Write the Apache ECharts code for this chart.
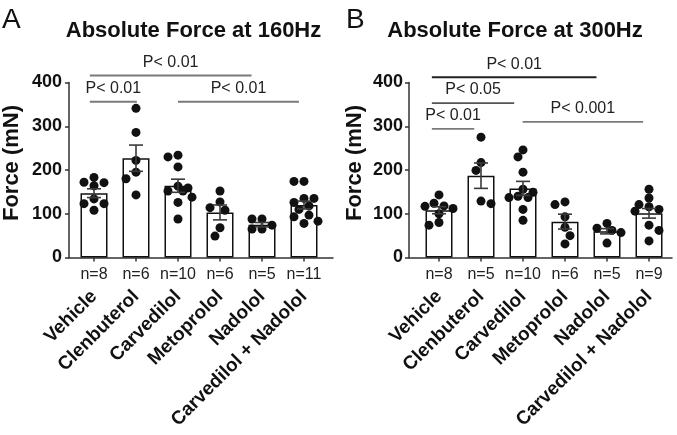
<!DOCTYPE html>
<html><head><meta charset="utf-8">
<script src="https://cdn.jsdelivr.net/npm/echarts@6/dist/echarts.min.js"></script>
<style>html,body{margin:0;padding:0;background:#fff}#c{width:677px;height:435px}</style>
</head><body><div id="c"></div>
<script>
// ---------------- DATA ----------------
const categories = ['Vehicle','Clenbuterol','Carvedilol','Metoprolol','Nadolol','Carvedilol + Nadolol'];
const yMin = 0, yMax = 400, yStep = 100;
const yName = 'Force (mN)';

// Panel A : 160 Hz
const titleA = 'Absolute Force at 160Hz';
const nLabelsA = ['n=8','n=6','n=10','n=6','n=5','n=11'];
const meanA = [147, 227, 164, 103, 75, 120];
const semA  = [10, 30, 15, 17, 5, 9];
const vehicleA    = [183,172,171,164,134,123,123,108];
const clenA       = [341,286,222,195,180,143];
const carvA       = [234,230,207,163,159,152,152,138,126,88];
const metoA       = [152,127,114,108,68,49];
const nadoA       = [88,88,74,65,65];
const carvNadoA   = [174,174,135,135,126,118,110,97,93,83,78];
const sigLabelA = ['P< 0.01','P< 0.01','P< 0.01'];
const sigFromA  = [-0.1, -0.1, 2.0];
const sigToA    = [3.75, 1.02, 4.88];
const sigLevelA = [416, 356, 356];

// Panel B : 300 Hz
const titleB = 'Absolute Force at 300Hz';
const nLabelsB = ['n=8','n=5','n=10','n=6','n=5','n=9'];
const meanB = [108, 187, 158, 82, 60, 101];
const semB  = [8, 29, 16, 17, 6, 11];
const vehicleB    = [143,124,118,117,112,100,80,74];
const clenB       = [275,217,199,129,123];
const carvB       = [246,230,195,156,149,140,137,137,110,85];
const metoB       = [127,121,93,69,50,31];
const nadoB       = [78,67,62,57,33];
const carvNadoB   = [156,136,121,116,110,106,74,62,38];
const sigLabelB = ['P< 0.01','P< 0.05','P< 0.01','P< 0.001'];
const sigFromB  = [-0.17, -0.17, -0.17, 1.99];
const sigToB    = [3.75, 1.79, 0.84, 4.86];
const sigLevelB = [412, 353, 294, 310];

// ---------------- LAYOUT / STYLE ----------------
const FONT = 'Liberation Sans, Arial, Helvetica, sans-serif';
const plotTop = 82.5, plotH = 175;
const catW = 42;
const panels = [
  {letter:'A', letterX:2, title:titleA, titleX:193.5, lineLeft:68, lineW:265, plotLeft:73, nameGap:46, labelMargin:7,
   nLabels:nLabelsA, mean:meanA, sem:semA, groups:[vehicleA,clenA,carvA,metoA,nadoA,carvNadoA],
   sig:{lab:sigLabelA, from:sigFromA, to:sigToA, lev:sigLevelA}, sigColor:['#7a7a7a','#7a7a7a','#7a7a7a']},
  {letter:'B', letterX:346, title:titleB, titleX:515, lineLeft:409, lineW:263, plotLeft:418, nameGap:43, labelMargin:6,
   nLabels:nLabelsB, mean:meanB, sem:semB, groups:[vehicleB,clenB,carvB,metoB,nadoB,carvNadoB],
   sig:{lab:sigLabelB, from:sigFromB, to:sigToB, lev:sigLevelB}, sigColor:['#222','#555','#7a7a7a','#7a7a7a']}
];

const yPxPerUnit = plotH / (yMax - yMin);
// compact beeswarm layout (offsets computed, limited to bar width)
function swarm(vals, idx) {
  const t = 8.5;
  const steps = [5, 10, 14];
  const placed = [];
  const out = [];
  vals.slice().sort((a,b)=>b-a).forEach(v => {
    const y = v * yPxPerUnit;
    let l = 0, r = 0;
    placed.forEach(p => { if (p.x < -0.1) l++; else if (p.x > 0.1) r++; });
    const cands = [0];
    steps.forEach(s => { if (l <= r) cands.push(-s, s); else cands.push(s, -s); });
    let chosen = null, best = -1, bestC = 0;
    for (const c of cands) {
      const md = placed.reduce((m, p) => Math.min(m, Math.hypot(p.x - c, p.y - y)), 1e9);
      if (md >= t) { chosen = c; break; }
      if (md > best) { best = md; bestC = c; }
    }
    if (chosen === null) chosen = bestC;
    placed.push({x: chosen, y});
    out.push([idx + chosen / catW, v]);
  });
  return out;
}

const option = {
  animation: false,
  backgroundColor: '#fff',
  textStyle: {fontFamily: FONT},
  title: [], grid: [], xAxis: [], yAxis: [], series: []
};

panels.forEach((p, pi) => {
  option.title.push({text: p.letter, left: p.letterX, top: 6, padding: 0,
    textStyle: {fontFamily: FONT, fontSize: 28, fontWeight: 'normal', color: '#111'}});
  option.title.push({text: p.title, left: p.titleX, top: 20, padding: 0, textAlign: 'center',
    textStyle: {fontFamily: FONT, fontSize: 22, fontWeight: 'bold', color: '#111'}});

  const gL = option.grid.length;
  option.grid.push({left: p.lineLeft, top: plotTop, width: p.lineW, height: plotH, containLabel: false});
  const gP = option.grid.length;
  option.grid.push({left: p.plotLeft, top: plotTop, width: catW * categories.length, height: plotH, containLabel: false});

  option.xAxis.push({type: 'value', gridIndex: gL, min: 0, max: 1,
    axisLine: {show: true, lineStyle: {color: '#333', width: 1.5}},
    axisTick: {show: false}, axisLabel: {show: false}, splitLine: {show: false}});
  option.yAxis.push({type: 'value', gridIndex: gL, min: yMin, max: yMax, interval: yStep,
    name: yName, nameLocation: 'middle', nameGap: p.nameGap,
    nameTextStyle: {fontFamily: FONT, fontSize: 22, fontWeight: 'bold', color: '#111', padding: [0,0,0,14]},
    axisLine: {show: true, lineStyle: {color: '#333', width: 1.5}},
    axisTick: {show: true, inside: false, length: 4, lineStyle: {color: '#333', width: 1.5}},
    axisLabel: {fontFamily: FONT, fontSize: 18, fontWeight: 'bold', color: '#111', margin: p.labelMargin},
    splitLine: {show: false}});

  const xN = option.xAxis.length;
  option.xAxis.push({type: 'category', gridIndex: gP, data: p.nLabels, position: 'bottom',
    axisLine: {show: false},
    axisTick: {show: true, alignWithLabel: true, length: 4, lineStyle: {color: '#333', width: 1.5}},
    axisLabel: {fontFamily: FONT, fontSize: 16, color: '#222', margin: 9, interval: 0},
    splitLine: {show: false}});
  option.xAxis.push({type: 'category', gridIndex: gP, data: categories, position: 'bottom',
    axisLine: {show: false}, axisTick: {show: false},
    axisLabel: {fontFamily: FONT, fontSize: 19, fontWeight: 'bold', color: '#111', rotate: 45, margin: 36, interval: 0},
    splitLine: {show: false}});
  const xV = option.xAxis.length;
  option.xAxis.push({type: 'value', gridIndex: gP, min: -0.5, max: categories.length - 0.5, show: false});
  const yP = option.yAxis.length;
  option.yAxis.push({type: 'value', gridIndex: gP, min: yMin, max: yMax, interval: yStep, show: false});

  option.series.push({type: 'bar', xAxisIndex: xN, yAxisIndex: yP, data: p.mean, barWidth: 27,
    itemStyle: {color: '#fff', borderColor: '#111', borderWidth: 1.5}, z: 2});

  const pts = [];
  p.groups.forEach((g, i) => swarm(g, i).forEach(q => pts.push(q)));
  option.series.push({type: 'scatter', xAxisIndex: xV, yAxisIndex: yP, data: pts, symbolSize: 9,
    itemStyle: {color: '#111', opacity: 1}, z: 3});

  option.series.push({type: 'custom', xAxisIndex: xV, yAxisIndex: yP, z: 4, clip: false,
    data: p.mean.map((m, i) => [i, m, p.sem[i]]),
    renderItem: (params, api) => {
      const i = api.value(0), m = api.value(1), s = api.value(2);
      const tp = api.coord([i, m + s]), b = api.coord([i, m - s]);
      const h = 7, st = {stroke: '#3a3a3a', lineWidth: 1.6};
      return {type: 'group', children: [
        {type: 'line', shape: {x1: tp[0], y1: tp[1], x2: b[0], y2: b[1]}, style: st},
        {type: 'line', shape: {x1: tp[0]-h, y1: tp[1], x2: tp[0]+h, y2: tp[1]}, style: st},
        {type: 'line', shape: {x1: b[0]-h, y1: b[1], x2: b[0]+h, y2: b[1]}, style: st}
      ]};
    }});

  option.series.push({type: 'custom', xAxisIndex: xV, yAxisIndex: yP, z: 5, clip: false,
    data: p.sig.lab.map((l, i) => [p.sig.from[i], p.sig.to[i], p.sig.lev[i], i]),
    renderItem: (params, api) => {
      const a = api.coord([api.value(0), api.value(2)]);
      const b = api.coord([api.value(1), api.value(2)]);
      const k = api.value(3);
      return {type: 'group', children: [
        {type: 'line', shape: {x1: a[0], y1: a[1], x2: b[0], y2: b[1]},
          style: {stroke: p.sigColor[k], lineWidth: 1.8}},
        {type: 'text', x: (a[0] + b[0]) / 2, y: a[1] - 13,
          style: {text: p.sig.lab[k], font: '16px ' + FONT, fill: '#222', align: 'center', verticalAlign: 'middle'}}
      ]};
    }});
});

const chart = echarts.init(document.getElementById('c'), null, {renderer: 'canvas'});
chart.setOption(option);
</script>
</body></html>
